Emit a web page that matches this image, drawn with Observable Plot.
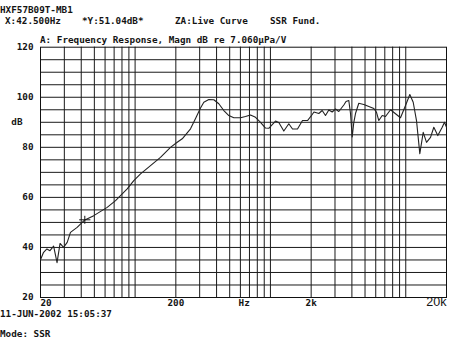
<!DOCTYPE html>
<html>
<head>
<meta charset="utf-8">
<script src="https://cdn.jsdelivr.net/npm/d3@7"></script>
<script src="https://cdn.jsdelivr.net/npm/@observablehq/plot@0.6"></script>
<style>
  html, body { margin: 0; padding: 0; background: #fff; }
  #chart { width: 450px; height: 338px; overflow: hidden; }
</style>
</head>
<body>
<div id="chart"></div>
<script>
// ---- data ----
const freqs = [20, 21, 22.3, 23.5, 25, 26.5, 27.9, 29.6, 31.5, 33.3, 37.3, 42.5, 49.5, 62.2, 71.7, 78, 87.4, 97.8, 109.7, 130, 154, 182.6, 204.7, 223, 256.8, 279.7, 304.4, 322, 350.5, 381.6, 415.5, 452.5, 492.7, 536.5, 601, 654, 712.6, 776, 845, 919.6, 972.8, 1031, 1090, 1153, 1256, 1367, 1456, 1585, 1726, 1879, 2036, 2098, 2278, 2413, 2552, 2700, 2860, 3026, 3200, 3486, 3618, 3794, 3906, 4020, 4130, 4252, 4498, 4898, 5334, 5809, 6080, 6322, 6700, 7086, 7716, 8402, 9144, 9960, 10714, 11350, 12006, 12700, 13458, 14236, 15238, 16118, 17252, 18592, 19334, 20000];
const magDb = [35.1, 37.9, 39.4, 38.7, 40.5, 33.9, 41.6, 40.0, 42.0, 46.0, 48.0, 51.0, 52.7, 56.0, 58.7, 60.7, 63.4, 66.7, 69.4, 72.7, 76.0, 80.0, 82.0, 83.4, 87.4, 91.5, 95.7, 98.0, 99.1, 99.0, 97.4, 94.7, 92.7, 91.8, 91.8, 92.3, 92.9, 92.0, 90.0, 87.7, 87.6, 89.1, 90.5, 89.9, 86.5, 89.4, 87.3, 87.3, 90.7, 90.7, 93.1, 94.1, 93.5, 94.7, 92.7, 94.9, 94.1, 95.3, 94.3, 96.9, 98.3, 98.7, 93.5, 84.1, 89.9, 93.5, 97.6, 97.1, 96.3, 95.5, 94.0, 90.7, 92.7, 92.3, 95.0, 93.4, 91.8, 96.7, 101.1, 98.0, 90.7, 77.5, 86.0, 82.0, 84.0, 88.0, 84.7, 88.0, 90.0, 88.0];

const vGrid = [30, 40, 50, 60, 70, 80, 90, 100, 200, 300, 400, 500, 600, 700, 800, 900, 1000, 2000, 3000, 4000, 5000, 6000, 7000, 8000, 9000, 10000];
const hGrid = [25, 30, 35, 40, 45, 50, 55, 60, 65, 70, 75, 80, 85, 90, 95, 100, 105, 110, 115];
const yTicks = [20, 40, 60, 80, 100, 120];
const xLabelFreqs = [200, 640, 2000];
const xLabelTexts = ["200", "Hz", "2k"];
const cursorFreq = 42.5;
const cursorDb = 51.04;

const headerLines = [
  {x: 0, y: 9.5, t: "HXF57B09T-MB1"},
  {x: 5, y: 20.5, t: "X:42.500Hz"},
  {x: 82, y: 20.5, t: "*Y:51.04dB*"},
  {x: 175, y: 20.5, t: "ZA:Live Curve"},
  {x: 270, y: 20.5, t: "SSR Fund."},
  {x: 40, y: 39.5, t: "A: Frequency Response, Magn dB re 7.060\u03bcPa/V"},
  {x: 0, y: 313.5, t: "11-JUN-2002 15:05:37"},
  {x: 0, y: 334, t: "Mode: SSR"}
];

// ---- chart ----
const curve = freqs.map((f, i) => ({f, db: magDb[i]}));
const ink = "#141414";
const crossSymbol = {
  draw(ctx, size) {
    const r = Math.sqrt(size / Math.PI);
    ctx.moveTo(-r * 1.4, 0); ctx.lineTo(r * 1.4, 0);
    ctx.moveTo(0, -r); ctx.lineTo(0, r);
  }
};

const plot = Plot.plot({
  width: 450,
  height: 338,
  marginLeft: 40,
  marginRight: 4,
  marginTop: 46.7,
  marginBottom: 41,
  style: {background: "#fff", fontFamily: "DejaVu Sans Mono", fontSize: "9.3px", fontWeight: "bold", color: ink},
  x: {type: "log", domain: [20, 20000], axis: null},
  y: {domain: [20, 120], axis: null},
  marks: [
    Plot.ruleX(vGrid, {x: d => d, stroke: "#1a1a1a", strokeWidth: 1}),
    Plot.ruleY(hGrid, {y: d => d, stroke: "#1a1a1a", strokeWidth: 1}),
    Plot.frame({stroke: "#111", strokeWidth: 1}),
    Plot.line(curve, {x: "f", y: "db", stroke: "#222", strokeWidth: 1.1}),
    Plot.dot([{f: cursorFreq, db: cursorDb}], {x: "f", y: "db", symbol: crossSymbol, r: 4, fill: "none", stroke: ink, strokeWidth: 1}),
    Plot.text(yTicks, {y: d => d, text: d => String(d), frameAnchor: "left", dx: -7, textAnchor: "end", fill: ink}),
    Plot.text([90], {y: d => d, text: () => "dB", frameAnchor: "left", dx: -18, textAnchor: "end", fill: ink}),
    Plot.text([20], {x: d => d, text: () => "20", frameAnchor: "bottom", dy: 8, textAnchor: "start", fill: ink}),
    Plot.text(xLabelFreqs, {x: d => d, text: (d, i) => xLabelTexts[i], frameAnchor: "bottom", dy: 8, fill: ink}),
    Plot.text(["20k"], {text: d => d, frameAnchor: "bottom-right", dy: 8.5, textAnchor: "end", fontFamily: "Liberation Sans, Arial, sans-serif", fontWeight: "normal", fontSize: 12.5, fill: ink})
  ]
});

const svg = d3.select(plot);
svg.append("g")
  .attr("font-family", "DejaVu Sans Mono")
  .attr("font-size", "9.3px")
  .attr("font-weight", "bold")
  .attr("text-anchor", "start")
  .attr("fill", ink)
  .selectAll("text")
  .data(headerLines)
  .join("text")
  .attr("x", d => d.x)
  .attr("y", d => d.y)
  .attr("dy", "0.35em")
  .text(d => d.t);

document.getElementById("chart").appendChild(plot);
</script>
</body>
</html>
